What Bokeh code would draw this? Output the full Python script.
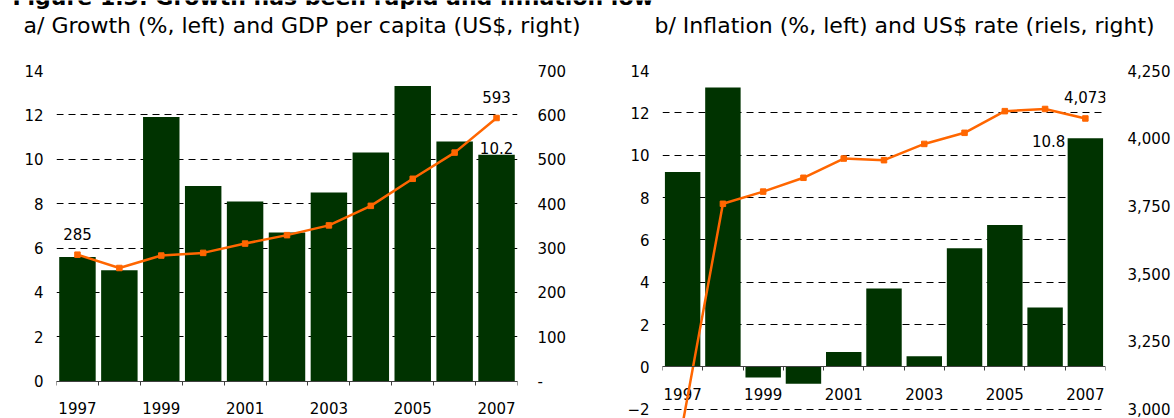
from bokeh.plotting import figure
from bokeh.models import Range1d, LinearAxis, FixedTicker, NumeralTickFormatter
from bokeh.layouts import row, column
from bokeh.embed import file_html
from bokeh.resources import INLINE
from bokeh.core.properties import value

# ---------------- data ----------------
years = [1997, 1998, 1999, 2000, 2001, 2002, 2003, 2004, 2005, 2006, 2007]
year_labels = [1997, 1999, 2001, 2003, 2005, 2007]

growth = [5.6, 5.0, 11.9, 8.8, 8.1, 6.7, 8.5, 10.3, 13.3, 10.8, 10.2]          # %, left
gdp_per_capita = [285, 255, 283, 289, 310, 329, 351, 395, 456, 515, 593]       # US$, right

inflation = [9.2, 13.2, -0.5, -0.8, 0.7, 3.7, 0.5, 5.6, 6.7, 2.8, 10.8]        # %, left
riel_rate = [2946, 3758, 3803, 3854, 3925, 3919, 3979, 4020, 4100, 4108, 4073]  # riels per US$, right

left_ticks_a = [0, 2, 4, 6, 8, 10, 12, 14]
right_ticks_a = [0, 100, 200, 300, 400, 500, 600, 700]
left_ticks_b = [-2, 0, 2, 4, 6, 8, 10, 12, 14]
right_ticks_b = [3000, 3250, 3500, 3750, 4000, 4250]

title_main = "Figure 1.3: Growth has been rapid and inflation low"
title_a = "a/ Growth (%, left) and GDP per capita (US$, right)"
title_b = "b/ Inflation (%, left) and US$ rate (riels, right)"

# ---------------- style / layout ----------------
FONT = "DejaVu Sans"
TICK_SIZE = "15px"
GREEN = "#003300"
ORANGE = "#FF6600"
AXIS_GREY = "#404040"
TOTAL_W = 1174
HEAD_H = 44
CHART_H = 374
A_FLOOR = -1.683   # frames run to the bottom edge; room for the year labels
B_FLOOR = -2.44


def text_kw(size=TICK_SIZE):
    return dict(text_font=value(FONT), text_font_size=size, text_color="black")


# ---------------- header (figure title + panel titles) ----------------
head = figure(width=TOTAL_W, height=HEAD_H, x_range=Range1d(0, TOTAL_W),
              y_range=Range1d(HEAD_H, 0), output_backend="svg", toolbar_location=None,
              x_axis_type=None, y_axis_type=None,
              min_border_left=0, min_border_right=0, min_border_top=0, min_border_bottom=0)
head.outline_line_color = None
head.grid.visible = False
head.text(x=[12], y=[-3], text=[title_main], text_baseline="alphabetic",
          text_align="left", text_font_style="bold", **text_kw("22px"))
head.text(x=[23, 654], y=[25, 25], text=[title_a, title_b], text_baseline="alphabetic",
          text_align="left", **text_kw("22px"))


def make_fig(width, y_lo, y_hi, left_ticks, mbl, mbr, label_offset):
    p = figure(width=width, height=CHART_H,
               x_range=Range1d(years[0] - 0.5, years[-1] + 0.5),
               y_range=Range1d(y_lo, y_hi),
               output_backend="svg", toolbar_location=None,
               min_border_left=mbl, min_border_right=mbr,
               min_border_top=26, min_border_bottom=0)
    p.outline_line_color = None
    p.background_fill_color = "white"
    p.border_fill_color = "white"
    p.xgrid.visible = False
    p.ygrid.ticker = FixedTicker(ticks=left_ticks)
    p.ygrid.grid_line_color = "black"
    p.ygrid.grid_line_dash = "7 5"
    p.ygrid.grid_line_width = 1

    # x axis drawn at y = 0, ticks between the years
    xa = p.xaxis[0]
    xa.fixed_location = 0
    bounds = [y - 0.5 for y in years] + [years[-1] + 0.5]
    xa.ticker = FixedTicker(ticks=[], minor_ticks=bounds)
    xa.axis_line_color = AXIS_GREY
    xa.major_tick_in = 0
    xa.major_tick_out = 0
    xa.major_tick_line_color = None
    xa.minor_tick_in = 0
    xa.minor_tick_out = 4
    xa.minor_tick_line_color = AXIS_GREY
    xa.major_label_standoff = 0
    xa.major_label_text_font_size = "0px"

    # year labels under the axis
    p.text(x=year_labels, y=[0] * len(year_labels), text=[str(y) for y in year_labels],
           text_align="center", text_baseline="alphabetic", y_offset=label_offset, **text_kw())

    ya = p.yaxis[0]
    ya.ticker = FixedTicker(ticks=left_ticks)
    ya.axis_line_color = None
    ya.major_tick_line_color = None
    ya.minor_tick_line_color = None
    ya.major_tick_in = 0
    ya.major_tick_out = 0
    ya.major_label_standoff = 13
    ya.major_label_text_font = FONT
    ya.major_label_text_font_size = TICK_SIZE
    ya.major_label_text_color = "black"
    return p


def right_axis(name, ticks, standoff, **kw):
    ax = LinearAxis(y_range_name=name, ticker=FixedTicker(ticks=ticks), **kw)
    ax.axis_line_color = None
    ax.major_tick_line_color = None
    ax.minor_tick_line_color = None
    ax.major_tick_in = 0
    ax.major_tick_out = 0
    ax.major_label_standoff = standoff
    ax.major_label_text_font = FONT
    ax.major_label_text_font_size = TICK_SIZE
    ax.major_label_text_color = "black"
    return ax


# ---------------- panel a ----------------
pa = make_fig(620, A_FLOOR, left_ticks_a[-1], left_ticks_a, 56, 103, 27.3)
scale_a = (right_ticks_a[-1] - right_ticks_a[0]) / (left_ticks_a[-1] - left_ticks_a[0])
pa.extra_y_ranges = {"gdp": Range1d(right_ticks_a[0] + (A_FLOOR - left_ticks_a[0]) * scale_a,
                                    right_ticks_a[-1])}
pa.add_layout(right_axis("gdp", right_ticks_a, 20, major_label_overrides={0: "-"}), "right")

pa.vbar(x=years, top=growth, width=0.87, fill_color=GREEN, line_color=None)
pa.line(years, gdp_per_capita, y_range_name="gdp", line_color=ORANGE, line_width=2.5)
pa.scatter(years, gdp_per_capita, y_range_name="gdp", marker="square", size=5.5,
           fill_color=ORANGE, line_color=ORANGE)

pa.text(x=[years[0], years[-1]], y=[gdp_per_capita[0], gdp_per_capita[-1]],
        text=[str(gdp_per_capita[0]), str(gdp_per_capita[-1])], y_range_name="gdp",
        text_align="center", text_baseline="alphabetic", y_offset=-21, **text_kw())
pa.text(x=[years[-1]], y=[growth[-1]], text=[f"{growth[-1]:.1f}"],
        text_align="center", text_baseline="alphabetic", y_offset=-7, **text_kw())

# ---------------- panel b ----------------
pb = make_fig(554, B_FLOOR, left_ticks_b[-1], left_ticks_b, 42, 69, 27.5)
scale_b = (right_ticks_b[-1] - right_ticks_b[0]) / (left_ticks_b[-1] - left_ticks_b[0])
pb.extra_y_ranges = {"fx": Range1d(right_ticks_b[0] + (B_FLOOR - left_ticks_b[0]) * scale_b,
                                   right_ticks_b[-1])}
pb.add_layout(right_axis("fx", right_ticks_b, 22, formatter=NumeralTickFormatter(format="0,0")), "right")

pb.vbar(x=years, bottom=0, top=inflation, width=0.88, fill_color=GREEN, line_color=None)
pb.line(years, riel_rate, y_range_name="fx", line_color=ORANGE, line_width=2.5)
pb.scatter(years, riel_rate, y_range_name="fx", marker="square", size=5.5,
           fill_color=ORANGE, line_color=ORANGE)

pb.text(x=[years[-1]], y=[riel_rate[-1]], text=[f"{riel_rate[-1]:,}"], y_range_name="fx",
        text_align="center", text_baseline="alphabetic", y_offset=-21.5, **text_kw())
pb.text(x=[years[-1]], y=[inflation[-1]], text=[f"{inflation[-1]:.1f}"],
        text_align="right", text_baseline="alphabetic", x_offset=-20, y_offset=3, **text_kw())

layout = column(head, row(pa, pb))
open("out.html", "w").write(file_html(layout, INLINE))
